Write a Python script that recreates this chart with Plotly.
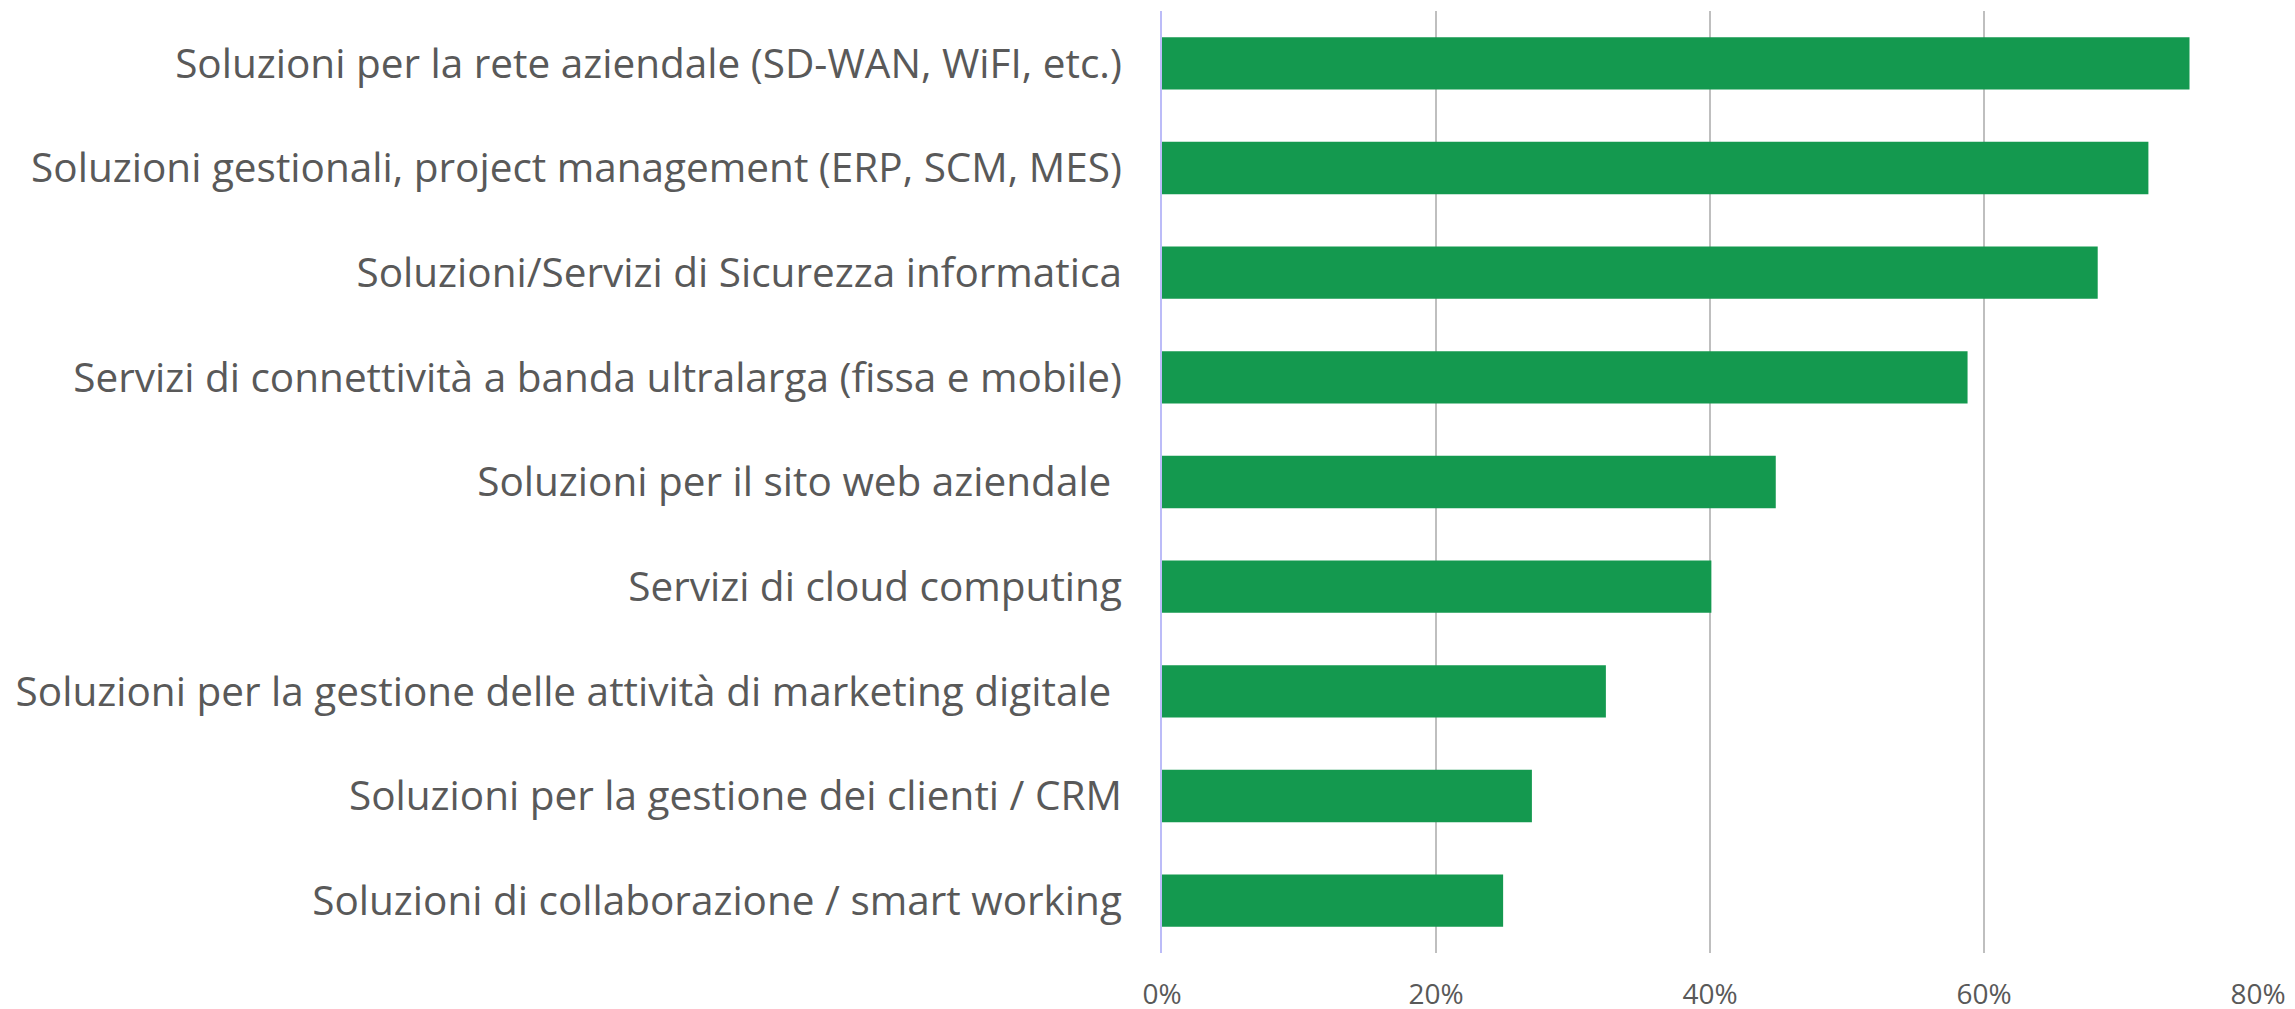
import plotly.graph_objects as go

categories = [
    "Soluzioni per la rete aziendale (SD-WAN, WiFI, etc.)",
    "Soluzioni gestionali, project management (ERP, SCM, MES)",
    "Soluzioni/Servizi di Sicurezza informatica",
    "Servizi di connettività a banda ultralarga (fissa e mobile)",
    "Soluzioni per il sito web aziendale\u00a0",
    "Servizi di cloud computing",
    "Soluzioni per la gestione delle attività di marketing digitale\u00a0",
    "Soluzioni per la gestione dei clienti / CRM",
    "Soluzioni di collaborazione / smart working",
]
values = [0.75, 0.72, 0.683, 0.588, 0.448, 0.401, 0.324, 0.270, 0.249]
tick_vals = [0, 0.2, 0.4, 0.6, 0.8]
tick_text = ["0%", "20%", "40%", "60%", "80%"]

fig = go.Figure(
    go.Bar(
        x=values,
        y=categories,
        orientation="h",
        marker=dict(color="#14994F", line=dict(width=0)),
        width=0.5,
        hoverinfo="x+y",
    )
)

fig.update_layout(
    width=2287,
    height=1009,
    paper_bgcolor="white",
    plot_bgcolor="white",
    showlegend=False,
    margin=dict(l=1154, r=37, t=3, b=64),
    font=dict(family="Open Sans", color="#595959"),
    xaxis=dict(
        range=[0, 0.8],
        tickvals=tick_vals,
        ticktext=tick_text,
        showgrid=True,
        gridcolor="#BFBFBF",
        gridwidth=1.5,
        zeroline=False,
        showline=False,
        automargin=False,
        tickfont=dict(size=28, color="#595959"),
        ticklabelstandoff=22,
    ),
    yaxis=dict(
        autorange="reversed",
        showgrid=False,
        zeroline=False,
        showline=True,
        linecolor="#BCBCF8",
        linewidth=2,
        automargin=False,
        tickfont=dict(size=40.5, color="#595959"),
        ticklabelstandoff=30,
    ),
)

fig.write_html("out.html")
